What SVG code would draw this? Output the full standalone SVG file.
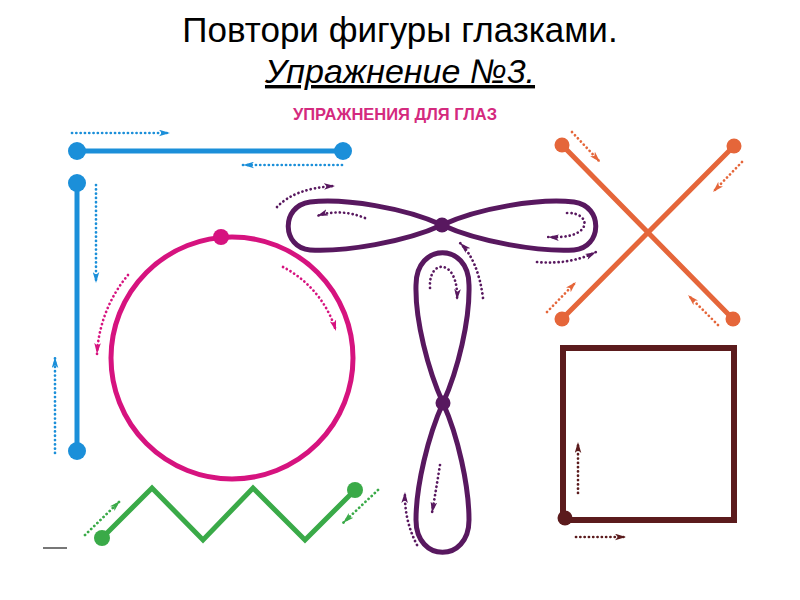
<svg xmlns="http://www.w3.org/2000/svg" width="800" height="600" viewBox="0 0 800 600">
<style>
text{font-family:"Liberation Sans",Arial,sans-serif}
.t1{font-size:35px;fill:#000}
.t2{font-size:34px;font-style:italic;fill:#000;text-decoration:underline}
.t3{font-size:16.5px;font-weight:bold;fill:#d42a7e}
.ln{fill:none;stroke-width:5;stroke-linecap:round;stroke-linejoin:miter}
.dt{fill:none;stroke-width:2.7;stroke-dasharray:0.1 4.2;stroke-linecap:round}
.blue{stroke:#1b8fd9}.pink{stroke:#d6137f}.purple{stroke:#58185f}.orange{stroke:#e5663a}.brown{stroke:#5b1b1d}.green{stroke:#3aaa48}
</style>
<defs>
<marker id="ab" viewBox="0 0 10 6" refX="10" refY="3" markerWidth="11" markerHeight="7" markerUnits="userSpaceOnUse" orient="auto"><path d="M0,0L10,3L0,6L2.5,3Z" fill="#1b8fd9"/></marker>
<marker id="ap" viewBox="0 0 10 6" refX="10" refY="3" markerWidth="11" markerHeight="7" markerUnits="userSpaceOnUse" orient="auto"><path d="M0,0L10,3L0,6L2.5,3Z" fill="#d6137f"/></marker>
<marker id="au" viewBox="0 0 10 6" refX="10" refY="3" markerWidth="11" markerHeight="7" markerUnits="userSpaceOnUse" orient="auto"><path d="M0,0L10,3L0,6L2.5,3Z" fill="#58185f"/></marker>
<marker id="ao" viewBox="0 0 10 6" refX="10" refY="3" markerWidth="11" markerHeight="7" markerUnits="userSpaceOnUse" orient="auto"><path d="M0,0L10,3L0,6L2.5,3Z" fill="#e5663a"/></marker>
<marker id="ar" viewBox="0 0 10 6" refX="10" refY="3" markerWidth="11" markerHeight="7" markerUnits="userSpaceOnUse" orient="auto"><path d="M0,0L10,3L0,6L2.5,3Z" fill="#5b1b1d"/></marker>
<marker id="ag" viewBox="0 0 10 6" refX="10" refY="3" markerWidth="11" markerHeight="7" markerUnits="userSpaceOnUse" orient="auto"><path d="M0,0L10,3L0,6L2.5,3Z" fill="#3aaa48"/></marker>
</defs>
<rect width="800" height="600" fill="#fff"/>

<g id="titles">
<text class="t1" x="400" y="42" text-anchor="middle">Повтори фигуры глазками.</text>
<text class="t2" x="400" y="83" text-anchor="middle">Упражнение №3.</text>
<text class="t3" x="395" y="120" text-anchor="middle">УПРАЖНЕНИЯ ДЛЯ ГЛАЗ</text>
</g>

<g id="blue-horizontal">
<line class="ln blue" x1="77" y1="151" x2="343" y2="151"/>
<circle cx="77" cy="151" r="9" fill="#1b8fd9"/>
<circle cx="343" cy="151" r="9" fill="#1b8fd9"/>
</g>
<g id="blue-vertical">
<line class="ln blue" x1="77" y1="183" x2="77" y2="451"/>
<circle cx="77" cy="183" r="9" fill="#1b8fd9"/>
<circle cx="77" cy="451" r="9" fill="#1b8fd9"/>
</g>
<g id="pink-circle">
<circle cx="232" cy="358" r="121" fill="none" stroke="#d6137f" stroke-width="5"/>
<circle cx="221" cy="237" r="8" fill="#d6137f"/>
</g>
<g id="green-zigzag">
<polyline class="ln green" points="102,538 152,488 203,540 253,488 305,540 355,490"/>
<circle cx="102" cy="538" r="8" fill="#3aaa48"/>
<circle cx="355" cy="490" r="8" fill="#3aaa48"/>
</g>
<g id="purple-horizontal-eight">
<path class="ln purple" d="M442,225 C405,208 345,198 310,202 C280,206 282,248 310,250 C345,252 405,242 442,225 C479,208 539,198 574,202 C604,206 602,248 574,250 C539,252 479,242 442,225Z"/>
<circle cx="442" cy="225" r="7.5" fill="#58185f"/>
</g>
<g id="purple-vertical-eight">
<path class="ln purple" d="M443,403 C428,370 415,320 416,285 C416,242 469,242 469,285 C470,320 458,370 443,403 C428,436 416,486 416,520 C416,563 469,563 469,520 C469,486 458,436 443,403Z"/>
<circle cx="443" cy="403" r="7.5" fill="#58185f"/>
</g>
<g id="orange-cross">
<line class="ln orange" x1="562" y1="145" x2="733" y2="319"/>
<line class="ln orange" x1="734" y1="146" x2="562" y2="319"/>
<circle cx="562" cy="145" r="7.5" fill="#e5663a"/>
<circle cx="734" cy="146" r="7.5" fill="#e5663a"/>
<circle cx="562" cy="319" r="7.5" fill="#e5663a"/>
<circle cx="733" cy="319" r="7.5" fill="#e5663a"/>
</g>
<g id="brown-square">
<rect x="563" y="348" width="171" height="172" fill="none" stroke="#5b1b1d" stroke-width="6"/>
<circle cx="565" cy="518" r="7.5" fill="#5b1b1d"/>
</g>
<line x1="43" y1="548" x2="67" y2="548" stroke="#777" stroke-width="2"/>

<g id="connectors">
<path class="dt blue" d="M72,133 L170,133" marker-end="url(#ab)"/>
<path class="dt blue" d="M342,165 L243,165" marker-end="url(#ab)"/>
<path class="dt blue" d="M96,185 L96,283" marker-end="url(#ab)"/>
<path class="dt blue" d="M55,453 L55,357" marker-end="url(#ab)"/>
<path class="dt pink" d="M283,267 A106,106 0 0 1 336,331" marker-end="url(#ap)"/>
<path class="dt pink" d="M128,275 A134,134 0 0 0 97,354" marker-end="url(#ap)"/>
<path class="dt green" d="M85,535 L120,501" marker-end="url(#ag)"/>
<path class="dt green" d="M378,490 L343,523" marker-end="url(#ag)"/>
<path class="dt purple" d="M277,207 Q295,188 335,186" marker-end="url(#au)"/>
<path class="dt purple" d="M365,218 Q340,208 317,216" marker-end="url(#au)"/>
<path class="dt purple" d="M567,213 C592,212 594,240 548,237" marker-end="url(#au)"/>
<path class="dt purple" d="M537,262 Q570,265 596,252" marker-end="url(#au)"/>
<path class="dt purple" d="M483,298 Q478,260 460,243" marker-end="url(#au)"/>
<path class="dt purple" d="M430,288 C428,258 459,258 457,300" marker-end="url(#au)"/>
<path class="dt purple" d="M440,465 Q436,490 432,513" marker-end="url(#au)"/>
<path class="dt purple" d="M417,545 Q404,520 405,492" marker-end="url(#au)"/>
<path class="dt orange" d="M572,132 L600,162" marker-end="url(#ao)"/>
<path class="dt orange" d="M742,162 L713,192" marker-end="url(#ao)"/>
<path class="dt orange" d="M547,312 L576,282" marker-end="url(#ao)"/>
<path class="dt orange" d="M718,325 L688,295" marker-end="url(#ao)"/>
<path class="dt brown" d="M578,493 L578,442" marker-end="url(#ar)"/>
<path class="dt brown" d="M576,537 L626,537" marker-end="url(#ar)"/>
</g>
</svg>
